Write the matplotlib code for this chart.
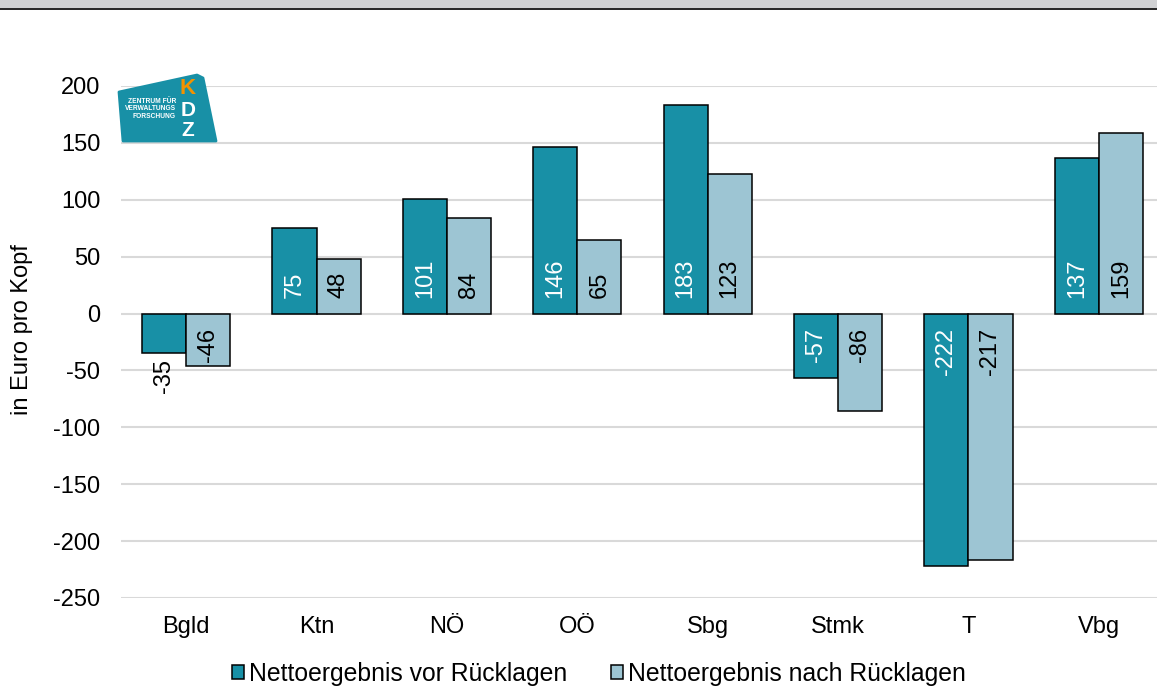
import matplotlib.pyplot as plt
import numpy as np
from matplotlib.patches import Patch, Polygon, Rectangle

plt.rcParams['font.family'] = ['Liberation Sans', 'DejaVu Sans']
plt.rcParams['axes.unicode_minus'] = False

laender = ['Bgld', 'Ktn', 'NÖ', 'OÖ', 'Sbg', 'Stmk', 'T', 'Vbg']
vor_ruecklagen = [-35, 75, 101, 146, 183, -57, -222, 137]
nach_ruecklagen = [-46, 48, 84, 65, 123, -86, -217, 159]
serien = ['Nettoergebnis vor Rücklagen', 'Nettoergebnis nach Rücklagen']
yticks = [200, 150, 100, 50, 0, -50, -100, -150, -200, -250]

dunkel = '#1890A6'
hell = '#9DC5D3'
FS = 17

W, H = 1157, 687


def px(x, y):
    # pixel position -> figure fraction
    return x / W, 1 - y / H


fig = plt.figure(figsize=(W / 100, H / 100), dpi=100)
ax = fig.add_axes([121 / W, (H - 598) / H, 1043 / W, 512 / H])

x = np.arange(len(laender))
bw = 0.338
b1 = ax.bar(x - bw / 2, vor_ruecklagen, bw, color=dunkel, edgecolor='black', linewidth=1.1, zorder=3)
b2 = ax.bar(x + bw / 2, nach_ruecklagen, bw, color=hell, edgecolor='black', linewidth=1.1, zorder=3)

# Werte senkrecht in die Balken, nahe der Nulllinie
for bars, werte, farbe in [(b1, vor_ruecklagen, 'white'), (b2, nach_ruecklagen, 'black')]:
    for bar, v in zip(bars, werte):
        xc = bar.get_x() + bar.get_width() / 2
        if abs(v) < 40:
            # zu kurz: Beschriftung unter dem Balken
            ax.annotate(str(v), (xc, v), xytext=(0, -4), textcoords='offset points',
                        rotation=90, ha='center', va='top', fontsize=FS, color='black', zorder=4)
        elif v >= 0:
            ax.annotate(str(v), (xc, 0), xytext=(0, 11), textcoords='offset points',
                        rotation=90, ha='center', va='bottom', fontsize=FS, color=farbe, zorder=4)
        else:
            ax.annotate(str(v), (xc, 0), xytext=(0, -10), textcoords='offset points',
                        rotation=90, ha='center', va='top', fontsize=FS, color=farbe, zorder=4)

ax.set_xlim(-0.5, len(laender) - 0.5)
ax.set_ylim(-250, 200)
ax.set_yticks(yticks)
ax.set_xticks(x)
ax.set_xticklabels(laender)
ax.tick_params(axis='both', length=0, labelsize=FS)
ax.tick_params(axis='y', pad=15)
ax.tick_params(axis='x', pad=13)
ax.yaxis.grid(True, color='#D9D9D9', linewidth=1.5, zorder=0)
ax.set_axisbelow(True)
for s in ax.spines.values():
    s.set_visible(False)

fig.text(*px(22, 330), 'in Euro pro Kopf', rotation=90, ha='center', va='center', fontsize=FS)

handles = [Patch(facecolor=dunkel, edgecolor='black', linewidth=1.1),
           Patch(facecolor=hell, edgecolor='black', linewidth=1.1)]
fig.legend(handles, serien, loc='center', bbox_to_anchor=px(599, 674), ncol=2, frameon=False,
           fontsize=17.8, handlelength=0.5, handleheight=0.5, handletextpad=0.2, columnspacing=1.75,
           borderpad=0, borderaxespad=0)

# grauer Streifen oben
fig.patches.append(Rectangle(px(0, 8), 1, 8 / H, transform=fig.transFigure, facecolor='#D1D2D4',
                             edgecolor='none', zorder=5))
fig.patches.append(Rectangle(px(0, 10), 1, 2 / H, transform=fig.transFigure, facecolor='#2B2B2B',
                             edgecolor='none', zorder=5))

# KDZ-Logo
logo = Polygon([px(119, 92), px(197, 75), px(203, 78), px(216, 141), px(123, 141)], closed=True,
               transform=fig.transFigure, facecolor='#1890A6', edgecolor='#1890A6',
               linewidth=2, joinstyle='round', zorder=6)
fig.patches.append(logo)
fig.text(*px(176, 109), 'ZENTRUM FÜR\nVERWALTUNGS\nFORSCHUNG', ha='right', va='center',
         fontsize=4.8, fontweight='bold', color='white', linespacing=1.15, zorder=7)
fig.text(*px(188, 89), 'K', ha='center', va='center', fontsize=16, fontweight='bold',
         color='#F39200', zorder=7)
fig.text(*px(188, 110), 'D', ha='center', va='center', fontsize=15, fontweight='bold',
         color='white', zorder=7)
fig.text(*px(188, 130), 'Z', ha='center', va='center', fontsize=15, fontweight='bold',
         color='white', zorder=7)

fig.savefig('out.png', dpi=100)
